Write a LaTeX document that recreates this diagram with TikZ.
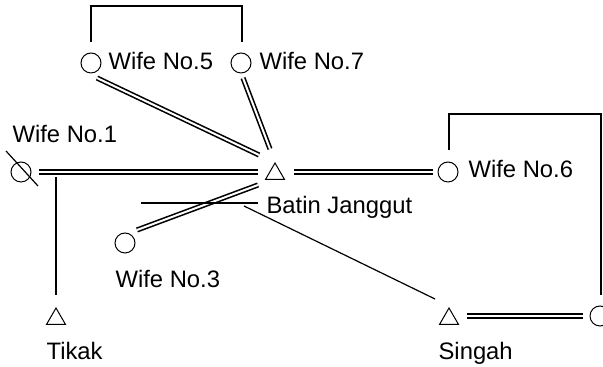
\documentclass[tikz,border=0pt]{standalone}
\usepackage{fontspec}
\setmainfont{Liberation Sans}
\usetikzlibrary{shapes.geometric}

\begin{document}
\begin{tikzpicture}[x=0.5pt, y=0.5pt, line width=0.6pt,
  female/.style={circle, draw, line width=0.5pt, inner sep=0pt, minimum size=10pt},
  male/.style={regular polygon, regular polygon sides=3, draw, line width=0.5pt, inner sep=0pt, minimum size=11pt},
  persontext/.style={anchor=base west, inner sep=0pt, font=\fontsize{11.9}{14}\selectfont},
  marriage/.style={double, double distance=1pt, line width=0.8pt}]

\useasboundingbox (0,0) rectangle (603,367);

\node[female] (w5) at (91,304) {};
\node[female] (w7) at (241,304) {};
\node[female] (w1) at (21,195) {};
\node[male] (bj) at (275,193) {};
\node[female] (w6) at (448,195) {};
\node[female] (w3) at (125,124) {};
\node[male] (tk) at (56,48) {};
\node[male] (sg) at (449,48) {};
\node[female] (w8) at (600,51) {};

\node[persontext] (w5-t) at (108,297) {Wife No.5};
\node[persontext] (w7-t) at (259,297) {Wife No.7};
\node[persontext] (w1-t) at (12,224) {Wife No.1};
\node[persontext] (w6-t) at (468,189) {Wife No.6};
\node[persontext] (bj-t) at (266,153) {Batin Janggut};
\node[persontext] (w3-t) at (115,79) {Wife No.3};
\node[persontext] (tk-t) at (46,7) {Tikak};
\node[persontext] (sg-t) at (438,7) {Singah};

\draw[marriage] ([shift={(6,-15)}]w5.center) -- ([shift={(-16,19)}]bj.center);
\draw[marriage] ([shift={(2,-15)}]w7.center) -- ([shift={(-5,25)}]bj.center);
\draw[marriage] ([shift={(18,0)}]w1.center) -- ([shift={(-17,2)}]bj.center);
\draw[marriage] ([shift={(19,2)}]bj.center) -- ([shift={(-15,0)}]w6.center);
\draw[marriage] ([shift={(12,13)}]w3.center) -- ([shift={(-17,-11)}]bj.center);
\draw[marriage] ([shift={(18,3)}]sg.center) -- ([shift={(-17,0)}]w8.center);

\draw ([shift={(-134,-29)}]bj.center) -- ([shift={(-17,-29)}]bj.center);
\draw ([shift={(-31,-32)}]bj.center) -- ([shift={(-14,20)}]sg.center);
\draw ([shift={(35,-5)}]w1.center) -- ([shift={(0,24)}]tk.center);

\draw ([shift={(0,21)}]w5.center) -- ++(0,36) -| ([shift={(1,21)}]w7.center);
\draw ([shift={(1,22)}]w6.center) -- ++(0,36) -| ([shift={(1,21)}]w8.center);

\draw ([shift={(-15,21)}]w1.center) -- ([shift={(17,-14)}]w1.center);

\end{tikzpicture}
\end{document}
